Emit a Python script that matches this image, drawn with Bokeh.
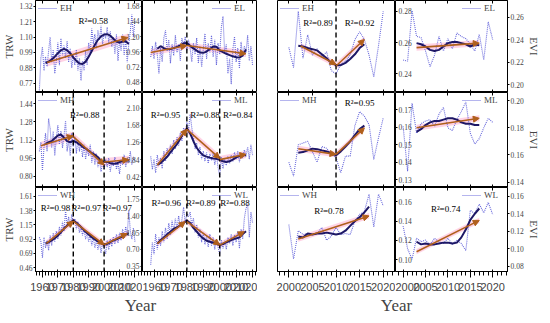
from bokeh.plotting import figure
from bokeh.layouts import row, column
from bokeh.models import (Range1d, LinearAxis, FixedTicker, PrintfTickFormatter, Span,
                          Label, Arrow, NormalHead, ColumnDataSource, Legend, LegendItem)
from bokeh.core.properties import value
from bokeh.embed import file_html
from bokeh.resources import INLINE

FONT = "Liberation Serif"
RAW_C = "#6a6adc"
SM_C = "#1d1766"
TR_C = "#b0601c"
BAND_C = "#ffa8cc"

# ---------------- data: TRW (tree-ring width) ----------------
trw_years = list(range(1958, 2021))
trw_sm_years = list(range(1962, 2017, 2))
trw_xticks = [1960, 1970, 1980, 1990, 2000, 2010, 2020]

EH_trw_raw = [0.72, 0.95, 1.03, 0.86, 0.96, 0.89, 1.00, 1.10, 0.92, 1.01,
              0.84, 0.93, 1.06, 0.90, 1.09, 0.97, 1.04, 0.95, 1.07, 0.92,
              1.02, 0.88, 0.97, 0.90, 1.01, 0.86, 0.95, 0.79, 0.93, 0.86,
              1.00, 0.90, 1.06, 0.98, 1.16, 1.05, 1.12, 1.02, 1.15, 1.08,
              1.18, 1.05, 1.13, 1.09, 1.17, 1.06, 1.14, 1.03, 1.10, 0.98,
              1.12, 0.93, 1.08, 1.00, 1.12, 0.97, 1.09, 0.92, 1.05, 1.14,
              1.26, 1.10, 1.22]
EL_trw_raw = [0.88, 1.05, 0.85, 1.12, 0.92, 0.62, 1.02, 0.80, 1.18, 1.30,
              0.98, 1.15, 0.78, 1.08, 0.90, 1.22, 0.95, 1.08, 0.82, 1.18,
              1.05, 1.20, 0.98, 1.15, 1.02, 0.80, 1.10, 0.92, 1.18, 0.78,
              1.05, 0.72, 1.00, 1.25, 0.85, 1.10, 0.95, 1.22, 0.88, 1.15,
              0.75, 1.10, 0.92, 1.35, 1.52, 0.95, 1.08, 0.62, 0.85, 0.45,
              1.00, 1.20, 0.80, 1.02, 0.70, 1.12, 0.88, 1.05, 0.95, 1.22,
              0.82, 1.05, 0.75]
MH_trw_raw = [1.02, 1.10, 0.85, 1.05, 1.18, 1.02, 1.31, 1.22, 1.05, 1.20,
              0.98, 1.14, 1.25, 1.08, 1.20, 1.05, 1.16, 1.29, 1.02, 1.12,
              0.98, 1.18, 1.06, 1.15, 1.00, 1.12, 1.02, 1.10, 0.97, 1.08,
              0.95, 1.05, 0.98, 1.08, 0.92, 1.02, 0.90, 1.00, 0.88, 0.95,
              0.84, 0.93, 0.86, 0.95, 0.88, 0.96, 0.84, 0.93, 0.89, 0.97,
              0.86, 0.92, 0.82, 0.95, 0.90, 0.99, 0.88, 0.96, 0.92, 1.02,
              0.90, 0.97, 0.93]
ML_trw_raw = [0.92, 0.60, 0.85, 0.52, 0.95, 0.70, 0.88, 0.62, 1.05, 0.80,
              1.12, 0.92, 1.20, 0.98, 1.32, 1.10, 1.40, 1.18, 1.50, 1.30,
              1.62, 1.45, 1.75, 1.55, 1.95, 1.62, 1.38, 1.10, 1.25, 0.95,
              1.15, 0.85, 1.05, 0.80, 1.02, 0.75, 0.98, 0.82, 1.00, 0.72,
              0.95, 0.65, 0.42, 0.90, 0.62, 0.85, 0.70, 0.92, 0.75, 0.95,
              0.80, 1.02, 0.85, 1.05, 0.78, 1.00, 0.88, 1.08, 0.92, 1.15,
              0.85, 1.20, 0.95]
WH_trw_raw = [0.95, 0.88, 0.62, 0.95, 0.78, 0.90, 0.74, 0.98, 0.82, 1.02,
              0.88, 1.05, 0.92, 1.12, 0.98, 1.20, 1.05, 1.38, 1.15, 1.28,
              1.10, 1.32, 1.18, 1.25, 1.08, 1.20, 1.02, 1.12, 0.98, 1.08,
              0.92, 1.02, 0.88, 0.98, 0.82, 0.95, 0.78, 0.90, 0.75, 0.88,
              0.70, 0.86, 0.78, 0.68, 0.90, 0.75, 0.92, 0.80, 0.96, 0.84,
              1.00, 0.86, 1.02, 0.90, 1.08, 0.94, 1.12, 0.98, 1.38, 1.05,
              0.92, 1.10, 0.88]
WL_trw_raw = [0.38, 0.85, 0.60, 1.02, 0.70, 0.95, 0.78, 1.08, 0.85, 1.15,
              0.92, 1.25, 1.00, 1.30, 1.08, 1.35, 1.12, 1.40, 1.18, 1.32,
              1.58, 1.25, 1.45, 1.38, 1.48, 1.20, 1.35, 1.05, 1.22, 0.95,
              1.12, 0.85, 1.05, 0.80, 0.98, 0.75, 1.02, 0.78, 0.95, 0.70,
              0.92, 0.75, 0.58, 0.90, 0.72, 0.88, 0.70, 0.95, 0.82, 1.02,
              0.78, 1.00, 0.85, 1.08, 0.72, 1.12, 0.92, 1.35, 1.55, 1.65,
              0.95, 1.48, 1.25]

EH_trw_sm = [0.915, 0.925, 0.940, 0.960, 0.985, 1.005, 1.015, 1.005, 0.985, 0.955,
             0.930, 0.912, 0.908, 0.925, 0.960, 1.000, 1.045, 1.080, 1.105, 1.118,
             1.120, 1.110, 1.088, 1.068, 1.060, 1.068, 1.070, 1.050]
EL_trw_sm = [1.010, 1.050, 1.020, 1.000, 1.005, 1.020, 1.040, 1.060, 1.095, 1.100,
             1.055, 1.015, 0.980, 0.950, 0.945, 0.965, 1.005, 1.045, 1.040, 0.985,
             0.955, 0.930, 0.910, 0.890, 0.875, 0.870, 0.905, 1.000]
MH_trw_sm = [1.085, 1.100, 1.110, 1.135, 1.160, 1.168, 1.140, 1.110, 1.100, 1.112,
             1.100, 1.082, 1.062, 1.045, 1.025, 1.005, 0.988, 0.968, 0.935, 0.925,
             0.927, 0.915, 0.910, 0.912, 0.925, 0.935, 0.940, 0.940]
ML_trw_sm = [0.710, 0.760, 0.830, 0.910, 1.020, 1.120, 1.220, 1.350, 1.500, 1.600,
             1.480, 1.290, 1.130, 1.020, 0.945, 0.915, 0.890, 0.868, 0.860, 0.835,
             0.800, 0.780, 0.800, 0.840, 0.895, 0.930, 0.950, 0.950]
WH_trw_sm = [0.850, 0.870, 0.900, 0.935, 0.975, 1.035, 1.090, 1.135, 1.180, 1.225,
             1.185, 1.140, 1.090, 1.040, 0.995, 0.950, 0.915, 0.885, 0.855, 0.830,
             0.845, 0.870, 0.900, 0.918, 0.940, 0.968, 0.995, 1.015]
WL_trw_sm = [0.820, 0.890, 0.950, 1.010, 1.070, 1.130, 1.160, 1.200, 1.250, 1.300,
             1.250, 1.150, 1.070, 0.990, 0.930, 0.880, 0.860, 0.840, 0.820, 0.790,
             0.810, 0.850, 0.880, 0.910, 0.930, 0.950, 1.020, 1.080]

# trend segments (x0, y0, x1, y1)
EH_trw_trend = [(1963, 0.918, 2015.5, 1.097)]
EL_trw_trend = [(1958, 0.95, 1980, 1.06), (1980, 1.06, 2016, 0.93)]
MH_trw_trend = [(1959, 1.07, 1980, 1.157), (1980, 1.15, 2000, 0.90), (2000, 0.925, 2016, 0.945)]
ML_trw_trend = [(1962, 0.71, 1980, 1.58), (1980, 1.58, 2000, 0.87), (2000, 0.84, 2016, 0.97)]
WH_trw_trend = [(1962.6, 0.853, 1980, 1.21), (1980, 1.21, 2000, 0.83), (2000, 0.83, 2015, 1.01)]
WL_trw_trend = [(1962, 0.82, 1979, 1.28), (1980, 1.28, 2000, 0.79), (2000, 0.79, 2015, 1.07)]

EH_trw_r2 = ["R²=0.58"]
MH_trw_r2 = ["R²=0.88"]
ML_trw_r2 = ["R²=0.95", "R²=0.88", "R²=0.84"]
WH_trw_r2 = ["R²=0.98", "R²=0.97", "R²=0.97"]
WL_trw_r2 = ["R²=0.96", "R²=0.89", "R²=0.88"]

EH_trw_yticks = [0.77, 0.88, 0.99, 1.10, 1.21, 1.32]
EL_trw_yticks = [0.48, 0.72, 0.96, 1.20, 1.44, 1.68]
MH_trw_yticks = [0.80, 0.96, 1.12, 1.28, 1.44]
ML_trw_yticks = [0.42, 0.84, 1.26, 1.68, 2.10]
WH_trw_yticks = [0.46, 0.69, 0.92, 1.15, 1.38, 1.61]
WL_trw_yticks = [0.35, 0.70, 1.05, 1.40, 1.75]

# ---------------- data: EVI ----------------
evi_years = list(range(2000, 2021))
evi_sm_years_h = list(range(2002, 2017))
evi_sm_years_wh = list(range(2002, 2018))
evi_sm_years_l = list(range(2003, 2018))
evi_xticks = [2000, 2005, 2010, 2015, 2020]

EH_evi_raw = [0.257, 0.244, 0.280, 0.250, 0.265, 0.252, 0.256, 0.251, 0.254, 0.242,
              0.240, 0.246, 0.248, 0.252, 0.262, 0.267, 0.262, 0.252, 0.238, 0.258,
              0.280]
EL_evi_raw = [0.222, 0.221, 0.266, 0.243, 0.242, 0.230, 0.216, 0.226, 0.243, 0.230,
              0.241, 0.232, 0.246, 0.243, 0.241, 0.236, 0.230, 0.245, 0.222, 0.256,
              0.240]
MH_evi_raw = [0.140, 0.132, 0.150, 0.151, 0.152, 0.146, 0.140, 0.149, 0.148, 0.1445,
              0.1426, 0.134, 0.1435, 0.1435, 0.161, 0.169, 0.1664, 0.1616, 0.1416, 0.154,
              0.1654]
ML_evi_raw = [0.181, 0.148, 0.198, 0.176, 0.183, 0.185, 0.186, 0.181, 0.190, 0.195,
              0.180, 0.178, 0.186, 0.192, 0.199, 0.176, 0.168, 0.172, 0.180, 0.187,
              0.184]
WH_evi_raw = [0.1364, 0.1005, 0.130, 0.126, 0.127, 0.126, 0.127, 0.1334, 0.120, 0.1244,
              0.1334, 0.126, 0.127, 0.126, 0.140, 0.147, 0.150, 0.168, 0.134, 0.168,
              0.156]
WL_evi_raw = [0.126, 0.100, 0.088, 0.112, 0.108, 0.110, 0.104, 0.112, 0.108, 0.106,
              0.112, 0.105, 0.110, 0.106, 0.098, 0.144, 0.140, 0.151, 0.141, 0.153,
              0.139]

EH_evi_sm = [0.258, 0.2575, 0.2565, 0.2558, 0.255, 0.2525, 0.250, 0.247, 0.2455, 0.2455,
             0.247, 0.2495, 0.2525, 0.2565, 0.259]
MH_evi_sm = [0.1455, 0.1458, 0.1468, 0.1478, 0.1475, 0.1468, 0.1462, 0.1452, 0.1440, 0.1462,
             0.1490, 0.1520, 0.1555, 0.1590, 0.1610]
WH_evi_sm = [0.124, 0.123, 0.127, 0.126, 0.127, 0.127, 0.128, 0.127, 0.126, 0.127,
             0.130, 0.135, 0.140, 0.144, 0.149, 0.155]
EL_evi_sm = [0.237, 0.236, 0.234, 0.231, 0.230, 0.231, 0.234, 0.237, 0.238, 0.238,
             0.237, 0.236, 0.234, 0.236, 0.235]
ML_evi_sm = [0.177, 0.179, 0.182, 0.184, 0.185, 0.185, 0.186, 0.187, 0.187, 0.186,
             0.184, 0.183, 0.183, 0.182, 0.182]
WL_evi_sm = [0.108, 0.105, 0.106, 0.105, 0.105, 0.106, 0.107, 0.107, 0.106, 0.107,
             0.113, 0.122, 0.133, 0.140, 0.146]

EH_evi_trend = [(2002.5, 0.2578, 2010, 0.246), (2010, 0.245, 2016, 0.262)]
EL_evi_trend = [(2003, 0.233, 2017, 0.237)]
MH_evi_trend = [(2002, 0.1477, 2010, 0.1445), (2010, 0.1445, 2016, 0.1597)]
ML_evi_trend = [(2003, 0.180, 2017, 0.187)]
WH_evi_trend = [(2002, 0.1214, 2017, 0.1454)]
WL_evi_trend = [(2003, 0.0966, 2017, 0.1324)]

EH_evi_r2 = ["R²=0.89", "R²=0.92"]
MH_evi_r2 = ["R²=0.95"]
WH_evi_r2 = ["R²=0.78"]
WL_evi_r2 = ["R²=0.74"]

EH_evi_yticks = [0.24, 0.26, 0.28]
EL_evi_yticks = [0.20, 0.22, 0.24, 0.26]
MH_evi_yticks = [0.13, 0.14, 0.15, 0.16, 0.17]
ML_evi_yticks = [0.14, 0.16, 0.18, 0.20]
WH_evi_yticks = [0.10, 0.12, 0.14, 0.16]
WL_evi_yticks = [0.08, 0.10, 0.12, 0.14, 0.16]

# ---------------- layout constants ----------------
XR = [(1955.5, 2024.9), (1953.0, 2023.0), (1997.6, 2022.6), (1998.3, 2023.3)]
YR = [[(0.705, 1.36), (0.32, 1.77), (0.228, 0.287), (0.193, 0.275)],
      [(0.70, 1.54), (0.16, 2.48), (0.1255, 0.180), (0.136, 0.206)],
      [(0.40, 1.75), (0.24, 1.99), (0.0875, 0.175), (0.074, 0.170)]]
WIDTHS = [142, 115, 138, 147]
FRAME_H = [92, 95, 93]
BOTTOM = 13
STRIP_H = 22


def tick_only_axis(p, side, loc, ticks):
    ax = LinearAxis(fixed_location=loc, ticker=FixedTicker(ticks=ticks),
                    major_label_text_color=None, major_label_standoff=0,
                    major_tick_in=3, major_tick_out=0, minor_tick_line_color=None,
                    axis_line_color=None)
    p.add_layout(ax, side)


def style_y(ax, ticks, tick_out=2):
    ax.ticker = FixedTicker(ticks=ticks)
    ax.formatter = PrintfTickFormatter(format="%.2f")
    ax.major_label_text_font = FONT
    ax.major_label_text_font_size = "7.5px"
    ax.major_label_standoff = 1
    ax.major_tick_in = 0
    ax.major_tick_out = tick_out
    ax.minor_tick_line_color = None
    ax.axis_line_color = "black"


def panel(ci, ri, name, yrs_raw, raw, yrs_sm, sm, trends, band, breaks, r2, r2_pos, xticks):
    xr, yr = XR[ci], YR[ri][ci]
    h = FRAME_H[ri] + (BOTTOM if ri == 2 else 0)
    p = figure(width=WIDTHS[ci], height=h, x_range=Range1d(*xr), y_range=Range1d(*yr),
               title=None, toolbar_location=None, output_backend="svg",
               x_axis_location=("below" if ri == 2 else None),
               y_axis_location=("left" if ci == 0 else ("right" if ci == 3 else None)),
               min_border_left=(27 if ci == 0 else (20 if ci == 2 else 0)),
               min_border_right=(29 if ci == 3 else 0),
               min_border_top=0, min_border_bottom=(BOTTOM if ri == 2 else 0))
    p.xgrid.visible = False
    p.ygrid.visible = False
    p.outline_line_color = "black"
    p.outline_line_alpha = 1.0
    p.outline_line_width = 1
    p.background_fill_color = None
    p.border_fill_color = None

    # pink bands around trends
    for (x0, y0, x1, y1) in trends:
        p.varea(x=[x0, x1], y1=[y0 - band, y1 - band], y2=[y0 + band, y1 + band],
                fill_color=BAND_C, fill_alpha=0.5)
    # breakpoints
    for b in breaks:
        p.add_layout(Span(location=b, dimension="height", line_color="black",
                          line_dash="5 3", line_width=1.4))
    r_raw = p.line(yrs_raw, raw, line_color=RAW_C, line_width=1.1, line_dash="1 1")
    p.line(yrs_sm, sm, line_color=SM_C, line_width=2.0)
    src = ColumnDataSource(dict(x0=[t[0] for t in trends], y0=[t[1] for t in trends],
                                x1=[t[2] for t in trends], y1=[t[3] for t in trends]))
    p.add_layout(Arrow(end=NormalHead(size=6, fill_color=TR_C, line_color=TR_C, line_width=1),
                       x_start="x0", y_start="y0", x_end="x1", y_end="y1", source=src,
                       line_color=TR_C, line_width=1.6))
    for txt, (lx, ly) in zip(r2, r2_pos):
        p.add_layout(Label(x=lx, y=ly, text=txt, text_font=FONT, text_font_size="9px",
                           text_align="center", text_baseline="middle", text_color="black"))
    leg = Legend(items=[LegendItem(label=value(name), renderers=[r_raw])],
                 location=("top_left" if ci in (0, 2) else "top_right"),
                 background_fill_alpha=0, border_line_alpha=0,
                 label_text_font=FONT, label_text_font_size="9px",
                 glyph_width=19, glyph_height=8, label_height=8, label_standoff=3,
                 padding=2, margin=1, spacing=0)
    p.add_layout(leg)

    # x ticks
    tick_only_axis(p, "above", yr[1], xticks)
    if ri < 2:
        tick_only_axis(p, "below", yr[0], xticks)
    else:
        ax = p.xaxis[0]
        ax.ticker = FixedTicker(ticks=xticks)
        ax.major_label_text_font = FONT
        ax.major_label_text_font_size = "7px" if ci < 2 else "8px"
        ax.major_label_text_font_style = "bold"
        ax.major_tick_in = 3
        ax.major_tick_out = 0
        ax.minor_tick_line_color = None
        ax.major_label_standoff = 3
    return p


def add_side_axis(p, ticks, label):
    ax = p.yaxis[0]
    style_y(ax, ticks)
    ax.axis_label = label
    ax.axis_label_text_font = FONT
    ax.axis_label_text_font_size = "11px"
    ax.axis_label_text_font_style = "normal"
    ax.axis_label_standoff = 1


def add_neighbour_axis(p, rng, ticks, side, loc, name):
    p.extra_y_ranges[name] = Range1d(*rng)
    ax = LinearAxis(y_range_name=name, fixed_location=loc)
    style_y(ax, ticks)
    p.add_layout(ax, side)


rows = []
spec_trw = [
    ("EH", EH_trw_raw, EH_trw_sm, EH_trw_trend, 0.028, [], EH_trw_r2, [(1993, 1.214)], EH_trw_yticks),
    ("EL", EL_trw_raw, EL_trw_sm, EL_trw_trend, 0.05, [1980], [], [], EL_trw_yticks),
    ("MH", MH_trw_raw, MH_trw_sm, MH_trw_trend, 0.035, [1980, 2000], MH_trw_r2, [(1987.5, 1.345)], MH_trw_yticks),
    ("ML", ML_trw_raw, ML_trw_sm, ML_trw_trend, 0.09, [1980, 2000], ML_trw_r2,
     [(1967, 1.934), (1991, 1.934), (2011, 1.934)], ML_trw_yticks),
    ("WH", WH_trw_raw, WH_trw_sm, WH_trw_trend, 0.05, [1980, 2000], WH_trw_r2,
     [(1968.5, 1.425), (1988.5, 1.425), (2008.5, 1.425)], WH_trw_yticks),
    ("WL", WL_trw_raw, WL_trw_sm, WL_trw_trend, 0.06, [1980, 2000], WL_trw_r2,
     [(1967.5, 1.658), (1988.5, 1.658), (2009.3, 1.658)], WL_trw_yticks),
]
spec_evi = [
    ("EH", EH_evi_raw, evi_sm_years_h, EH_evi_sm, EH_evi_trend, 0.002, [2010], EH_evi_r2,
     [(2006.2, 0.2724), (2015.0, 0.2724)], EH_evi_yticks),
    ("EL", EL_evi_raw, evi_sm_years_l, EL_evi_sm, EL_evi_trend, 0.0028, [], [], [], EL_evi_yticks),
    ("MH", MH_evi_raw, evi_sm_years_h, MH_evi_sm, MH_evi_trend, 0.0017, [2010], MH_evi_r2,
     [(2015.0, 0.174)], MH_evi_yticks),
    ("ML", ML_evi_raw, evi_sm_years_l, ML_evi_sm, ML_evi_trend, 0.0022, [], [], [], ML_evi_yticks),
    ("WH", WH_evi_raw, evi_sm_years_wh, WH_evi_sm, WH_evi_trend, 0.003, [], WH_evi_r2,
     [(2008.5, 0.151)], WH_evi_yticks),
    ("WL", WL_evi_raw, evi_sm_years_l, WL_evi_sm, WL_evi_trend, 0.003, [], WL_evi_r2,
     [(2009.5, 0.145)], WL_evi_yticks),
]

for ri in range(3):
    a = spec_trw[2 * ri]
    b = spec_trw[2 * ri + 1]
    c = spec_evi[2 * ri]
    d = spec_evi[2 * ri + 1]
    p1 = panel(0, ri, a[0], trw_years, a[1], trw_sm_years, a[2], a[3], a[4], a[5], a[6], a[7], trw_xticks)
    p2 = panel(1, ri, b[0], trw_years, b[1], trw_sm_years, b[2], b[3], b[4], b[5], b[6], b[7], trw_xticks)
    p3 = panel(2, ri, c[0], evi_years, c[1], c[2], c[3], c[4], c[5], c[6], c[7], c[8], evi_xticks)
    p4 = panel(3, ri, d[0], evi_years, d[1], d[2], d[3], d[4], d[5], d[6], d[7], d[8], evi_xticks)
    add_side_axis(p1, a[8], "TRW")
    add_neighbour_axis(p1, YR[ri][1], b[8], "left", XR[0][1], "nb")
    add_side_axis(p4, d[9], "EVI")
    add_neighbour_axis(p4, YR[ri][2], c[9], "right", XR[3][0], "nb")
    rows.append(row(p1, p2, p3, p4))

strip = figure(width=542, height=STRIP_H, x_range=(0, 542), y_range=(0, STRIP_H), title=None,
               toolbar_location=None, output_backend="svg",
               x_axis_location=None, y_axis_location=None, min_border=0)
strip.xgrid.visible = False
strip.ygrid.visible = False
strip.outline_line_color = None
strip.background_fill_color = None
strip.border_fill_color = None
for xc in (140, 396):
    strip.add_layout(Label(x=xc, y=STRIP_H / 2 - 1, text="Year", text_font=FONT,
                           text_font_size="17px", text_align="center",
                           text_baseline="middle"))

layout = column(*rows, strip)
open("out.html", "w").write(file_html(layout, INLINE))
